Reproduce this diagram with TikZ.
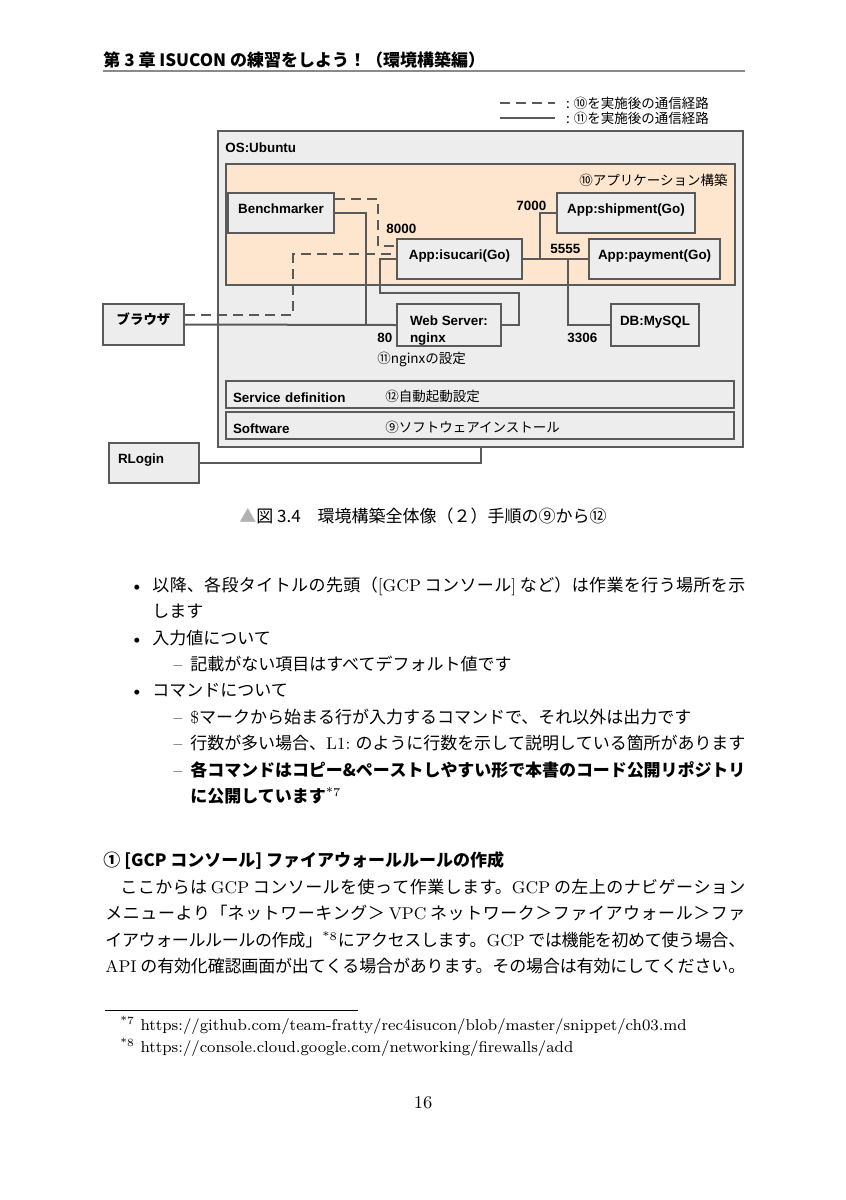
\documentclass[tikz,border=0pt]{standalone}
\usepackage{fontspec}
\usepackage{tikz}
\usetikzlibrary{arrows}
\usepackage{xcolor}
\newfontfamily\jp{Noto Sans CJK JP}
\newfontfamily\dgfont{Liberation Sans}
\XeTeXlinebreaklocale "ja"
\XeTeXlinebreakskip=0pt plus 1fil minus 1pt
\definecolor{lgray}{HTML}{5A5A5A}
\definecolor{bgray}{HTML}{EDEDED}
\definecolor{peach}{HTML}{FDE5CE}
\definecolor{hgray}{HTML}{8A8A8A}
\newcommand{\lm}[1]{{\rmfamily #1}}
\newcommand{\jline}[2]{\parbox[b]{#1}{\parfillskip=0pt\relax #2}}

\begin{document}
\begin{tikzpicture}[x=0.5pt,y=-0.5pt,
  box/.style={draw=lgray,fill=bgray,line width=1pt,anchor=north west,align=left,
    inner xsep=4.5pt,inner ysep=0pt,text height=5pt,text depth=5pt,minimum height=20pt,
    font=\dgfont\bfseries\fontsize{6.7}{8.5}\selectfont},
  bar/.style={box,minimum width=254pt,minimum height=13.5pt,inner xsep=3.5pt,
    text width=247pt,text height=8pt,text depth=0.5pt},
  conn/.style={draw=lgray,line width=1pt},
  dashline/.style={conn,dash pattern=on 5pt off 3pt},
  num/.style={anchor=base west,inner sep=0pt,font=\dgfont\bfseries\fontsize{6.7}{8.5}\selectfont},
  jsmall/.style={anchor=base west,inner sep=0pt,font=\jp\fontsize{6.75}{8.5}\selectfont},
  body/.style={anchor=base west,inner sep=0pt,font=\jp\fontsize{8.5}{13}\selectfont},
  hd/.style={body,font=\jp\bfseries\fontsize{8.5}{13}\selectfont},
  fn/.style={anchor=base west,inner sep=0pt,font=\rmfamily\fontsize{7.9}{11}\selectfont}]
\fill[white] (0,0) rectangle (846,1200);
\useasboundingbox (0,0) rectangle (846,1200);

\node[hd] (title) at (103,66) {第 3 章 ISUCON の練習をしよう！（環境構築編）};
\draw[hgray,line width=0.8pt] (103,71) -- (745,71);

\draw[dashline] (500,103) -- (555,103) node[jsmall,anchor=west,xshift=5pt] (lg1) {: ⑩を実施後の通信経路};
\draw[conn] (500,118) -- (555,118) node[jsmall,anchor=west,xshift=5pt] (lg2) {: ⑪を実施後の通信経路};

\node[box,minimum width=262.5pt,minimum height=158pt] (os) at (217,130) {};
\node[num] (osttl) at (225,152) {OS:Ubuntu};
\node[box,fill=peach,minimum width=254.5pt,minimum height=60.5pt] (app) at (225,163) {};
\node[jsmall,anchor=base east] (appttl) at (728,185) {⑩アプリケーション構築};

\node[box,minimum width=53pt] (bench) at (227,192) {Benchmarker};
\node[box,minimum width=62.5pt] (isu) at (396,238) {App:isucari(Go)};
\node[box,minimum width=69pt] (ship) at (556,192) {App:shipment(Go)};
\node[box,minimum width=65pt] (pay) at (588,238) {App:payment(Go)};
\node[box,minimum width=52pt,minimum height=21pt,text height=19pt,text depth=2pt] (web) at (396,303) {Web Server:\\nginx};
\node[box,minimum width=44pt,minimum height=21pt] (db) at (610,303) {DB:MySQL};
\node[box,minimum width=40.5pt,minimum height=20.5pt,font=\jp\bfseries\fontsize{6.7}{8.5}\selectfont] (browser) at (102,303) {ブラウザ};
\node[box,minimum height=20pt,text width=36pt] (rlogin) at (108,442) {RLogin};
\node[bar] (svc) at (225,380) {Service definition};
\node[bar] (sw) at (225,411) {Software};
\node[jsmall] (svcj) at (385,401) {⑫自動起動設定};
\node[jsmall] (swj) at (385,432) {⑨ソフトウェアインストール};

\node[num] (p8000) at (386,233) {8000};
\node[num] (p7000) at (516,210) {7000};
\node[num] (p5555) at (550,253) {5555};
\node[num] (p80) at (377,342) {80};
\node[num] (p3306) at (567,342) {3306};
\node[jsmall] (ngx) at (377,363) {⑪nginxの設定};

\draw[conn] (bench.east) -- ++(31,0) |- (web.west);
\draw[conn] (browser.east) -- (web.west);
\draw[conn] (web.east) -- ++(17,0) |- ++(-139,-32) |- (isu.west);
\draw[conn] (isu.east) -- (pay.west);
\draw[conn] (isu.east) -- ++(17,0) |- (ship.west);
\draw[conn] (isu.east) -- ++(45,0) |- (db.west);
\draw[conn] (rlogin.east) -| (os.south);
\draw[dashline] ([yshift=7pt]bench.east) -- ++(43,0) |- ([yshift=6.5pt]isu.west);
\draw[dashline] ([yshift=5pt]browser.east) -- ++(108,0) |- ([yshift=2.5pt]isu.west);

\node[body,anchor=base] (cap) at (423,522) {\textcolor{gray!60}{▲}図 3.4　環境構築全体像（２）手順の⑨から⑫};

\node[body,anchor=base] (bu1) at (137,591) {\lm{\textbullet}};
\node[body] (l1) at (152,591) {\jline{296.5pt}{以降、各段タイトルの先頭（\lm{[GCP} コンソール\lm{]} など）は作業を行う場所を示}};
\node[body] (l2) at (152,617) {します};
\node[body,anchor=base] (bu2) at (137,644) {\lm{\textbullet}};
\node[body] (l3) at (152,644) {入力値について};
\node[body,anchor=base] (da1) at (178,670) {\lm{\textendash}};
\node[body] (l4) at (190,670) {記載がない項目はすべてデフォルト値です};
\node[body,anchor=base] (bu3) at (137,696) {\lm{\textbullet}};
\node[body] (l5) at (152,696) {コマンドについて};
\node[body,anchor=base] (da2) at (178,723) {\lm{\textendash}};
\node[body] (l6) at (190,723) {\lm{\$}マークから始まる行が入力するコマンドで、それ以外は出力です};
\node[body,anchor=base] (da3) at (178,749) {\lm{\textendash}};
\node[body] (l7) at (190,749) {\jline{277.5pt}{行数が多い場合、\lm{L1:} のように行数を示して説明している箇所があります}};
\node[body,anchor=base] (da4) at (178,776) {\lm{\textendash}};
\node[hd] (l8) at (190,776) {\jline{277.5pt}{各コマンドはコピー\&ペーストしやすい形で本書のコード公開リポジトリ}};
\node[hd] (l9) at (190,802) {に公開しています\lm{\mdseries\textsuperscript{*7}}};

\node[hd] (sec) at (103,866) {① [GCP コンソール] ファイアウォールルールの作成};
\node[body] (p1) at (105,893) {\jline{320pt}{\hspace*{7.5pt}ここからは \lm{GCP} コンソールを使って作業します。\lm{GCP} の左上のナビゲーション}};
\node[body] (p2) at (105,919.5) {\jline{320pt}{メニューより「ネットワーキング＞ \lm{VPC} ネットワーク＞ファイアウォール＞ファ}};
\node[body] (p3) at (105,946) {\jline{320pt}{イアウォールルールの作成」\lm{\textsuperscript{*8}}にアクセスします。\lm{GCP} では機能を初めて使う場合、}};
\node[body] (p4) at (105,972.5) {\jline{320pt}{\lm{API} の有効化確認画面が出てくる場合があります。その場合は有効にしてください。}};

\draw[line width=0.4pt] (105,1010) -- (358,1010);
\node[fn] (fn7) at (120,1030) {\textsuperscript{*7} https://github.com/team-fratty/rec4isucon/blob/master/snippet/ch03.md};
\node[fn] (fn8) at (120,1052) {\textsuperscript{*8} https://console.cloud.google.com/networking/firewalls/add};
\node[fn,anchor=base,font=\rmfamily\fontsize{9}{11}\selectfont] (pg) at (423,1108) {16};
\end{tikzpicture}
\end{document}
